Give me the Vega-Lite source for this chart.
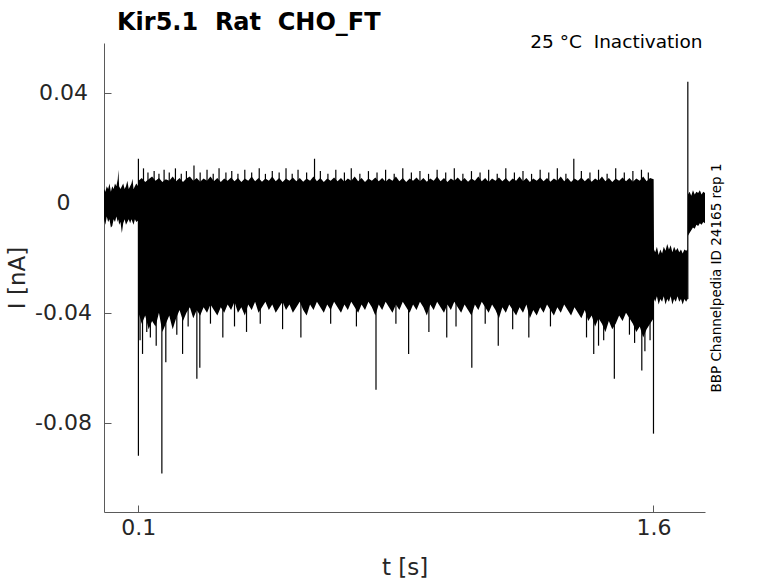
{
  "$schema": "https://vega.github.io/schema/vega-lite/v6.json",
  "width": 601,
  "height": 469,
  "autosize": "none",
  "padding": {"left": 104, "top": 43, "right": 73, "bottom": 71},
  "background": "white",
  "title": {
    "text": "Kir5.1\u00a0 Rat\u00a0 CHO_FT",
    "anchor": "start",
    "frame": "group",
    "dx": 13,
    "dy": 38,
    "offset": 16,
    "baseline": "alphabetic",
    "fontSize": 24,
    "fontWeight": "bold",
    "color": "black",
    "font": "DejaVu Sans"
  },
  "datasets": {
    "band": [
      {"t": 0.000, "lo": -0.006, "hi": 0.005},
      {"t": 0.004, "lo": -0.008, "hi": 0.004},
      {"t": 0.008, "lo": -0.005, "hi": 0.006},
      {"t": 0.012, "lo": -0.007, "hi": 0.005},
      {"t": 0.016, "lo": -0.006, "hi": 0.007},
      {"t": 0.020, "lo": -0.009, "hi": 0.004},
      {"t": 0.024, "lo": -0.0085, "hi": 0.006},
      {"t": 0.028, "lo": -0.006, "hi": 0.005},
      {"t": 0.032, "lo": -0.007, "hi": 0.007},
      {"t": 0.036, "lo": -0.005, "hi": 0.006},
      {"t": 0.040, "lo": -0.007, "hi": 0.0085},
      {"t": 0.042, "lo": -0.006, "hi": 0.012},
      {"t": 0.044, "lo": -0.008, "hi": 0.006},
      {"t": 0.048, "lo": -0.007, "hi": 0.005},
      {"t": 0.052, "lo": -0.011, "hi": 0.006},
      {"t": 0.056, "lo": -0.0075, "hi": 0.007},
      {"t": 0.060, "lo": -0.006, "hi": 0.005},
      {"t": 0.064, "lo": -0.008, "hi": 0.006},
      {"t": 0.068, "lo": -0.007, "hi": 0.008},
      {"t": 0.072, "lo": -0.006, "hi": 0.005},
      {"t": 0.076, "lo": -0.0075, "hi": 0.006},
      {"t": 0.080, "lo": -0.006, "hi": 0.007},
      {"t": 0.083, "lo": -0.007, "hi": 0.0087},
      {"t": 0.086, "lo": -0.008, "hi": 0.005},
      {"t": 0.090, "lo": -0.006, "hi": 0.006},
      {"t": 0.094, "lo": -0.007, "hi": 0.007},
      {"t": 0.0995, "lo": -0.0065, "hi": 0.006},
      {"t": 0.1005, "lo": -0.040, "hi": 0.008},
      {"t": 0.11, "lo": -0.044, "hi": 0.009},
      {"t": 0.12, "lo": -0.041, "hi": 0.0075},
      {"t": 0.13, "lo": -0.046, "hi": 0.0085},
      {"t": 0.14, "lo": -0.043, "hi": 0.0095},
      {"t": 0.15, "lo": -0.045, "hi": 0.008},
      {"t": 0.16, "lo": -0.040, "hi": 0.009},
      {"t": 0.17, "lo": -0.047, "hi": 0.0075},
      {"t": 0.18, "lo": -0.044, "hi": 0.0085},
      {"t": 0.19, "lo": -0.041, "hi": 0.008},
      {"t": 0.20, "lo": -0.046, "hi": 0.0095},
      {"t": 0.21, "lo": -0.042, "hi": 0.0078},
      {"t": 0.22, "lo": -0.039, "hi": 0.009},
      {"t": 0.23, "lo": -0.043, "hi": 0.0075},
      {"t": 0.24, "lo": -0.040, "hi": 0.0088},
      {"t": 0.25, "lo": -0.038, "hi": 0.0095},
      {"t": 0.26, "lo": -0.042, "hi": 0.008},
      {"t": 0.27, "lo": -0.039, "hi": 0.009},
      {"t": 0.28, "lo": -0.041, "hi": 0.0076},
      {"t": 0.29, "lo": -0.038, "hi": 0.0088},
      {"t": 0.30, "lo": -0.040, "hi": 0.008},
      {"t": 0.31, "lo": -0.037, "hi": 0.0095},
      {"t": 0.32, "lo": -0.039, "hi": 0.0078},
      {"t": 0.33, "lo": -0.041, "hi": 0.009},
      {"t": 0.34, "lo": -0.038, "hi": 0.0075},
      {"t": 0.35, "lo": -0.040, "hi": 0.0088},
      {"t": 0.36, "lo": -0.037, "hi": 0.008},
      {"t": 0.37, "lo": -0.039, "hi": 0.0092},
      {"t": 0.38, "lo": -0.036, "hi": 0.0078},
      {"t": 0.39, "lo": -0.040, "hi": 0.009},
      {"t": 0.40, "lo": -0.038, "hi": 0.0075},
      {"t": 0.41, "lo": -0.041, "hi": 0.0088},
      {"t": 0.42, "lo": -0.037, "hi": 0.008},
      {"t": 0.43, "lo": -0.039, "hi": 0.0095},
      {"t": 0.44, "lo": -0.036, "hi": 0.0078},
      {"t": 0.45, "lo": -0.040, "hi": 0.009},
      {"t": 0.46, "lo": -0.038, "hi": 0.0076},
      {"t": 0.47, "lo": -0.036, "hi": 0.0088},
      {"t": 0.48, "lo": -0.039, "hi": 0.008},
      {"t": 0.49, "lo": -0.037, "hi": 0.0095},
      {"t": 0.50, "lo": -0.040, "hi": 0.0078},
      {"t": 0.51, "lo": -0.038, "hi": 0.009},
      {"t": 0.52, "lo": -0.036, "hi": 0.0075},
      {"t": 0.53, "lo": -0.039, "hi": 0.0088},
      {"t": 0.54, "lo": -0.037, "hi": 0.008},
      {"t": 0.55, "lo": -0.040, "hi": 0.0092},
      {"t": 0.56, "lo": -0.038, "hi": 0.0078},
      {"t": 0.57, "lo": -0.036, "hi": 0.009},
      {"t": 0.58, "lo": -0.039, "hi": 0.0076},
      {"t": 0.59, "lo": -0.041, "hi": 0.0088},
      {"t": 0.60, "lo": -0.037, "hi": 0.008},
      {"t": 0.61, "lo": -0.039, "hi": 0.0095},
      {"t": 0.62, "lo": -0.036, "hi": 0.0078},
      {"t": 0.63, "lo": -0.038, "hi": 0.009},
      {"t": 0.64, "lo": -0.040, "hi": 0.0075},
      {"t": 0.65, "lo": -0.037, "hi": 0.0088},
      {"t": 0.66, "lo": -0.039, "hi": 0.008},
      {"t": 0.67, "lo": -0.036, "hi": 0.0092},
      {"t": 0.68, "lo": -0.038, "hi": 0.0078},
      {"t": 0.69, "lo": -0.040, "hi": 0.009},
      {"t": 0.70, "lo": -0.037, "hi": 0.0076},
      {"t": 0.71, "lo": -0.039, "hi": 0.0088},
      {"t": 0.72, "lo": -0.036, "hi": 0.008},
      {"t": 0.73, "lo": -0.038, "hi": 0.0095},
      {"t": 0.74, "lo": -0.040, "hi": 0.0078},
      {"t": 0.75, "lo": -0.037, "hi": 0.009},
      {"t": 0.76, "lo": -0.039, "hi": 0.0075},
      {"t": 0.77, "lo": -0.036, "hi": 0.0088},
      {"t": 0.78, "lo": -0.038, "hi": 0.008},
      {"t": 0.79, "lo": -0.041, "hi": 0.0092},
      {"t": 0.80, "lo": -0.037, "hi": 0.0078},
      {"t": 0.81, "lo": -0.039, "hi": 0.009},
      {"t": 0.82, "lo": -0.036, "hi": 0.0076},
      {"t": 0.83, "lo": -0.038, "hi": 0.0088},
      {"t": 0.84, "lo": -0.040, "hi": 0.008},
      {"t": 0.85, "lo": -0.037, "hi": 0.0095},
      {"t": 0.86, "lo": -0.039, "hi": 0.0078},
      {"t": 0.87, "lo": -0.036, "hi": 0.009},
      {"t": 0.88, "lo": -0.038, "hi": 0.0075},
      {"t": 0.89, "lo": -0.040, "hi": 0.0088},
      {"t": 0.90, "lo": -0.037, "hi": 0.008},
      {"t": 0.91, "lo": -0.039, "hi": 0.0092},
      {"t": 0.92, "lo": -0.036, "hi": 0.0078},
      {"t": 0.93, "lo": -0.038, "hi": 0.009},
      {"t": 0.94, "lo": -0.041, "hi": 0.0076},
      {"t": 0.95, "lo": -0.037, "hi": 0.0088},
      {"t": 0.96, "lo": -0.039, "hi": 0.008},
      {"t": 0.97, "lo": -0.036, "hi": 0.0095},
      {"t": 0.98, "lo": -0.038, "hi": 0.0078},
      {"t": 0.99, "lo": -0.040, "hi": 0.009},
      {"t": 1.00, "lo": -0.037, "hi": 0.0075},
      {"t": 1.01, "lo": -0.039, "hi": 0.0088},
      {"t": 1.02, "lo": -0.036, "hi": 0.008},
      {"t": 1.03, "lo": -0.038, "hi": 0.0092},
      {"t": 1.04, "lo": -0.040, "hi": 0.0078},
      {"t": 1.05, "lo": -0.037, "hi": 0.009},
      {"t": 1.06, "lo": -0.039, "hi": 0.0076},
      {"t": 1.07, "lo": -0.041, "hi": 0.0088},
      {"t": 1.08, "lo": -0.037, "hi": 0.008},
      {"t": 1.09, "lo": -0.039, "hi": 0.0095},
      {"t": 1.10, "lo": -0.036, "hi": 0.0078},
      {"t": 1.11, "lo": -0.038, "hi": 0.009},
      {"t": 1.12, "lo": -0.040, "hi": 0.0075},
      {"t": 1.13, "lo": -0.037, "hi": 0.0088},
      {"t": 1.14, "lo": -0.039, "hi": 0.008},
      {"t": 1.15, "lo": -0.042, "hi": 0.0092},
      {"t": 1.16, "lo": -0.038, "hi": 0.0078},
      {"t": 1.17, "lo": -0.040, "hi": 0.009},
      {"t": 1.18, "lo": -0.037, "hi": 0.0076},
      {"t": 1.19, "lo": -0.039, "hi": 0.0088},
      {"t": 1.20, "lo": -0.041, "hi": 0.008},
      {"t": 1.21, "lo": -0.038, "hi": 0.0095},
      {"t": 1.22, "lo": -0.040, "hi": 0.0078},
      {"t": 1.23, "lo": -0.037, "hi": 0.009},
      {"t": 1.24, "lo": -0.042, "hi": 0.0075},
      {"t": 1.25, "lo": -0.039, "hi": 0.0088},
      {"t": 1.26, "lo": -0.041, "hi": 0.008},
      {"t": 1.27, "lo": -0.038, "hi": 0.0092},
      {"t": 1.28, "lo": -0.040, "hi": 0.0078},
      {"t": 1.29, "lo": -0.037, "hi": 0.009},
      {"t": 1.30, "lo": -0.039, "hi": 0.0076},
      {"t": 1.31, "lo": -0.041, "hi": 0.0088},
      {"t": 1.32, "lo": -0.038, "hi": 0.008},
      {"t": 1.33, "lo": -0.040, "hi": 0.0095},
      {"t": 1.34, "lo": -0.037, "hi": 0.0078},
      {"t": 1.35, "lo": -0.039, "hi": 0.009},
      {"t": 1.36, "lo": -0.041, "hi": 0.0075},
      {"t": 1.37, "lo": -0.038, "hi": 0.0088},
      {"t": 1.38, "lo": -0.040, "hi": 0.008},
      {"t": 1.39, "lo": -0.042, "hi": 0.0092},
      {"t": 1.40, "lo": -0.039, "hi": 0.0078},
      {"t": 1.41, "lo": -0.043, "hi": 0.009},
      {"t": 1.42, "lo": -0.041, "hi": 0.0076},
      {"t": 1.43, "lo": -0.045, "hi": 0.0088},
      {"t": 1.44, "lo": -0.042, "hi": 0.008},
      {"t": 1.45, "lo": -0.044, "hi": 0.0095},
      {"t": 1.46, "lo": -0.047, "hi": 0.0078},
      {"t": 1.47, "lo": -0.043, "hi": 0.009},
      {"t": 1.48, "lo": -0.046, "hi": 0.0075},
      {"t": 1.49, "lo": -0.044, "hi": 0.0088},
      {"t": 1.50, "lo": -0.041, "hi": 0.008},
      {"t": 1.51, "lo": -0.043, "hi": 0.0092},
      {"t": 1.52, "lo": -0.040, "hi": 0.0078},
      {"t": 1.53, "lo": -0.042, "hi": 0.009},
      {"t": 1.54, "lo": -0.044, "hi": 0.0076},
      {"t": 1.55, "lo": -0.047, "hi": 0.0088},
      {"t": 1.56, "lo": -0.045, "hi": 0.008},
      {"t": 1.57, "lo": -0.049, "hi": 0.0095},
      {"t": 1.58, "lo": -0.046, "hi": 0.0078},
      {"t": 1.59, "lo": -0.044, "hi": 0.009},
      {"t": 1.6005, "lo": -0.042, "hi": 0.0085},
      {"t": 1.6015, "lo": -0.035, "hi": -0.017},
      {"t": 1.605, "lo": -0.036, "hi": -0.018},
      {"t": 1.610, "lo": -0.034, "hi": -0.016},
      {"t": 1.615, "lo": -0.037, "hi": -0.019},
      {"t": 1.620, "lo": -0.035, "hi": -0.017},
      {"t": 1.625, "lo": -0.036, "hi": -0.0185},
      {"t": 1.630, "lo": -0.034, "hi": -0.016},
      {"t": 1.635, "lo": -0.037, "hi": -0.0175},
      {"t": 1.640, "lo": -0.035, "hi": -0.015},
      {"t": 1.645, "lo": -0.036, "hi": -0.017},
      {"t": 1.650, "lo": -0.034, "hi": -0.0155},
      {"t": 1.655, "lo": -0.037, "hi": -0.018},
      {"t": 1.660, "lo": -0.035, "hi": -0.016},
      {"t": 1.665, "lo": -0.036, "hi": -0.0175},
      {"t": 1.670, "lo": -0.034, "hi": -0.0165},
      {"t": 1.675, "lo": -0.036, "hi": -0.018},
      {"t": 1.680, "lo": -0.035, "hi": -0.017},
      {"t": 1.685, "lo": -0.037, "hi": -0.0185},
      {"t": 1.690, "lo": -0.035, "hi": -0.017},
      {"t": 1.695, "lo": -0.036, "hi": -0.0175},
      {"t": 1.6995, "lo": -0.035, "hi": -0.017},
      {"t": 1.7005, "lo": -0.012, "hi": 0.003},
      {"t": 1.705, "lo": -0.011, "hi": 0.004},
      {"t": 1.710, "lo": -0.010, "hi": 0.0025},
      {"t": 1.715, "lo": -0.009, "hi": 0.0045},
      {"t": 1.720, "lo": -0.0095, "hi": 0.003},
      {"t": 1.725, "lo": -0.008, "hi": 0.004},
      {"t": 1.730, "lo": -0.0085, "hi": 0.0035},
      {"t": 1.735, "lo": -0.0075, "hi": 0.0045},
      {"t": 1.740, "lo": -0.008, "hi": 0.003},
      {"t": 1.745, "lo": -0.007, "hi": 0.004},
      {"t": 1.750, "lo": -0.0075, "hi": 0.0035}
    ],
    "spikes": [
      {"t": 0.1002, "lo": -0.092, "hi": 0.016},
      {"t": 0.1122, "lo": -0.055, "hi": -0.03},
      {"t": 0.1245, "lo": -0.047, "hi": -0.03},
      {"t": 0.1685, "lo": -0.0985, "hi": -0.03},
      {"t": 0.180, "lo": -0.058, "hi": -0.03},
      {"t": 0.2288, "lo": -0.055, "hi": -0.03},
      {"t": 0.2704, "lo": -0.064, "hi": -0.03},
      {"t": 0.279, "lo": -0.060, "hi": -0.03},
      {"t": 0.346, "lo": -0.049, "hi": -0.03},
      {"t": 0.415, "lo": -0.047, "hi": -0.03},
      {"t": 0.5733, "lo": -0.049, "hi": -0.03},
      {"t": 0.613, "lo": 0.0, "hi": 0.016},
      {"t": 0.792, "lo": -0.068, "hi": -0.03},
      {"t": 0.887, "lo": -0.055, "hi": -0.03},
      {"t": 0.946, "lo": -0.047, "hi": -0.03},
      {"t": 0.998, "lo": -0.049, "hi": -0.03},
      {"t": 1.071, "lo": -0.060, "hi": -0.03},
      {"t": 1.148, "lo": -0.052, "hi": -0.03},
      {"t": 1.237, "lo": -0.049, "hi": -0.03},
      {"t": 1.368, "lo": 0.0, "hi": 0.016},
      {"t": 1.426, "lo": -0.055, "hi": -0.03},
      {"t": 1.486, "lo": -0.064, "hi": -0.03},
      {"t": 1.566, "lo": -0.061, "hi": -0.03},
      {"t": 1.600, "lo": -0.084, "hi": -0.03},
      {"t": 1.700, "lo": -0.035, "hi": 0.044},
      {"t": 0.115, "lo": 0.007, "hi": 0.0125},
      {"t": 0.128, "lo": 0.007, "hi": 0.011},
      {"t": 0.146, "lo": 0.007, "hi": 0.0115},
      {"t": 0.160, "lo": 0.007, "hi": 0.0105},
      {"t": 0.175, "lo": 0.007, "hi": 0.012},
      {"t": 0.190, "lo": 0.007, "hi": 0.011},
      {"t": 0.208, "lo": 0.007, "hi": 0.0125},
      {"t": 0.225, "lo": 0.007, "hi": 0.0105},
      {"t": 0.240, "lo": 0.007, "hi": 0.0115},
      {"t": 0.262, "lo": 0.007, "hi": 0.0135},
      {"t": 0.280, "lo": 0.007, "hi": 0.011},
      {"t": 0.300, "lo": 0.007, "hi": 0.012},
      {"t": 0.318, "lo": 0.007, "hi": 0.0105},
      {"t": 0.335, "lo": 0.007, "hi": 0.0125},
      {"t": 0.355, "lo": 0.007, "hi": 0.011},
      {"t": 0.372, "lo": 0.007, "hi": 0.0115},
      {"t": 0.390, "lo": 0.007, "hi": 0.0105},
      {"t": 0.410, "lo": 0.007, "hi": 0.012},
      {"t": 0.430, "lo": 0.007, "hi": 0.011},
      {"t": 0.452, "lo": 0.007, "hi": 0.0125},
      {"t": 0.470, "lo": 0.007, "hi": 0.0105},
      {"t": 0.490, "lo": 0.007, "hi": 0.0115},
      {"t": 0.510, "lo": 0.007, "hi": 0.011},
      {"t": 0.530, "lo": 0.007, "hi": 0.0125},
      {"t": 0.548, "lo": 0.007, "hi": 0.0105},
      {"t": 0.565, "lo": 0.007, "hi": 0.012},
      {"t": 0.590, "lo": 0.007, "hi": 0.011},
      {"t": 0.630, "lo": 0.007, "hi": 0.0115},
      {"t": 0.652, "lo": 0.007, "hi": 0.0105},
      {"t": 0.675, "lo": 0.007, "hi": 0.012},
      {"t": 0.700, "lo": 0.007, "hi": 0.011},
      {"t": 0.720, "lo": 0.007, "hi": 0.0125},
      {"t": 0.745, "lo": 0.007, "hi": 0.0105},
      {"t": 0.770, "lo": 0.007, "hi": 0.0115},
      {"t": 0.795, "lo": 0.007, "hi": 0.011},
      {"t": 0.820, "lo": 0.007, "hi": 0.012},
      {"t": 0.845, "lo": 0.007, "hi": 0.0105},
      {"t": 0.870, "lo": 0.007, "hi": 0.0125},
      {"t": 0.895, "lo": 0.007, "hi": 0.011},
      {"t": 0.920, "lo": 0.007, "hi": 0.0115},
      {"t": 0.945, "lo": 0.007, "hi": 0.0105},
      {"t": 0.970, "lo": 0.007, "hi": 0.012},
      {"t": 0.995, "lo": 0.007, "hi": 0.011},
      {"t": 1.020, "lo": 0.007, "hi": 0.0125},
      {"t": 1.045, "lo": 0.007, "hi": 0.0105},
      {"t": 1.070, "lo": 0.007, "hi": 0.0115},
      {"t": 1.095, "lo": 0.007, "hi": 0.011},
      {"t": 1.120, "lo": 0.007, "hi": 0.012},
      {"t": 1.145, "lo": 0.007, "hi": 0.0105},
      {"t": 1.170, "lo": 0.007, "hi": 0.0125},
      {"t": 1.195, "lo": 0.007, "hi": 0.011},
      {"t": 1.220, "lo": 0.007, "hi": 0.0115},
      {"t": 1.245, "lo": 0.007, "hi": 0.0105},
      {"t": 1.270, "lo": 0.007, "hi": 0.012},
      {"t": 1.295, "lo": 0.007, "hi": 0.011},
      {"t": 1.320, "lo": 0.007, "hi": 0.0125},
      {"t": 1.345, "lo": 0.007, "hi": 0.0105},
      {"t": 1.390, "lo": 0.007, "hi": 0.0115},
      {"t": 1.415, "lo": 0.007, "hi": 0.011},
      {"t": 1.440, "lo": 0.007, "hi": 0.012},
      {"t": 1.465, "lo": 0.007, "hi": 0.0105},
      {"t": 1.490, "lo": 0.007, "hi": 0.0125},
      {"t": 1.515, "lo": 0.007, "hi": 0.011},
      {"t": 1.540, "lo": 0.007, "hi": 0.0115},
      {"t": 1.565, "lo": 0.007, "hi": 0.012},
      {"t": 1.585, "lo": 0.007, "hi": 0.011},
      {"t": 0.105, "lo": -0.050, "hi": -0.036},
      {"t": 0.135, "lo": -0.049, "hi": -0.036},
      {"t": 0.152, "lo": -0.052, "hi": -0.036},
      {"t": 0.212, "lo": -0.048, "hi": -0.036},
      {"t": 0.245, "lo": -0.045, "hi": -0.036},
      {"t": 0.310, "lo": -0.044, "hi": -0.036},
      {"t": 0.380, "lo": -0.045, "hi": -0.036},
      {"t": 0.455, "lo": -0.044, "hi": -0.036},
      {"t": 0.520, "lo": -0.046, "hi": -0.036},
      {"t": 0.660, "lo": -0.044, "hi": -0.036},
      {"t": 0.735, "lo": -0.045, "hi": -0.036},
      {"t": 0.850, "lo": -0.044, "hi": -0.036},
      {"t": 1.025, "lo": -0.045, "hi": -0.036},
      {"t": 1.110, "lo": -0.044, "hi": -0.036},
      {"t": 1.190, "lo": -0.046, "hi": -0.036},
      {"t": 1.300, "lo": -0.045, "hi": -0.036},
      {"t": 1.405, "lo": -0.049, "hi": -0.036},
      {"t": 1.440, "lo": -0.052, "hi": -0.036},
      {"t": 1.455, "lo": -0.050, "hi": -0.036},
      {"t": 1.530, "lo": -0.048, "hi": -0.036},
      {"t": 1.545, "lo": -0.051, "hi": -0.036},
      {"t": 1.575, "lo": -0.054, "hi": -0.036},
      {"t": 1.590, "lo": -0.050, "hi": -0.036}
    ]
  },
  "layer": [
    {
      "data": {"name": "band"},
      "mark": {"type": "area", "color": "black", "opacity": 1},
      "encoding": {
        "x": {
          "field": "t",
          "type": "quantitative",
          "scale": {"domain": [0, 1.75], "nice": false, "zero": false},
          "axis": {
            "orient": "bottom",
            "values": [0.1, 1.6],
            "labelExpr": "'' + datum.value",
            "title": "t [s]",
            "titleY": 55,
            "titleBaseline": "middle"
          }
        },
        "y": {
          "field": "lo",
          "type": "quantitative",
          "scale": {"domain": [-0.1125, 0.0581], "nice": false, "zero": false},
          "axis": {
            "orient": "left",
            "values": [-0.08, -0.04, 0, 0.04],
            "labelExpr": "'' + datum.value",
            "labelAlign": "center",
            "labelPadding": 48,
            "title": "I [nA]",
            "titleX": -87,
            "titleBaseline": "middle"
          }
        },
        "y2": {"field": "hi"}
      }
    },
    {
      "data": {"name": "spikes"},
      "mark": {"type": "rule", "color": "black", "strokeWidth": 1.2},
      "encoding": {
        "x": {
          "field": "t",
          "type": "quantitative",
          "axis": {
            "orient": "top",
            "title": "25 °C\u00a0 Inactivation",
            "labels": false,
            "ticks": false,
            "domain": false,
            "titleFontSize": 18.5,
            "titleColor": "black",
            "titleAnchor": "end",
            "titleAlign": "right",
            "titleX": 598,
            "titleY": 4,
            "titleBaseline": "alphabetic"
          }
        },
        "y": {
          "field": "lo",
          "type": "quantitative",
          "axis": {
            "orient": "right",
            "title": "BBP Channelpedia ID 24165 rep 1",
            "labels": false,
            "ticks": false,
            "domain": false,
            "titleFontSize": 13.5,
            "titleColor": "black",
            "titleAngle": -90,
            "titleX": 11,
            "titleY": 234.5,
            "titleAlign": "center",
            "titleBaseline": "middle"
          }
        },
        "y2": {"field": "hi"}
      }
    }
  ],
  "resolve": {"axis": {"x": "independent", "y": "independent"}},
  "config": {
    "view": {"stroke": null},
    "font": "DejaVu Sans",
    "axis": {
      "grid": false,
      "domainColor": "#5a5a5a",
      "domainWidth": 1,
      "tickColor": "#5a5a5a",
      "tickSize": -7,
      "labelFont": "DejaVu Sans",
      "labelFontSize": 22,
      "labelColor": "#262626",
      "labelPadding": 12,
      "titleFont": "DejaVu Sans",
      "titleFontSize": 23,
      "titleFontWeight": "normal",
      "titleColor": "#262626"
    }
  }
}
